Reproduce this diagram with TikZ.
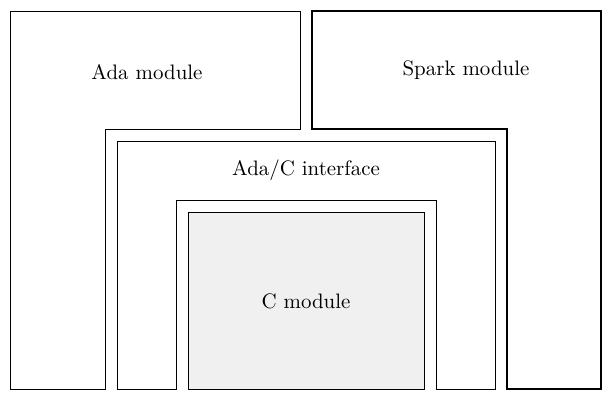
\documentclass[tikz,border=0pt]{standalone}
\usepackage{tikz}
\begin{document}
\begin{tikzpicture}[x=0.478pt,y=-0.478pt]
			\useasboundingbox (0,0) rectangle (613,401);
			\tikzset{module/.style={draw,line width=0.4pt},
				spark/.style={draw,very thick}}
			
			\fill [black!6] (188,212) rectangle (424,389);
			\draw [module] (188,212) rectangle (424,389);
			
			\draw [module] (10,11) -- (300,11) -- (300,129) -- (105,129) -- (105,389) -- (10,389) -- cycle;
			\draw [spark] (312,11) -- (601,11) -- (601,389) -- (507,389) -- (507,129) -- (312,129) -- cycle;
			\draw [module] (117,389) -- (117,141) -- (495,141) -- (495,389) -- (436,389) -- (436,200) -- (176,200) -- (176,389) -- cycle;
			
			\node (ada) at (147,72) {Ada module};
			\node (spark) at (466,70) {Spark module};
			\node (iface) at (306,170) {Ada/C interface};
			\node (cmod) at (306,301) {C module};
		\end{tikzpicture}
\end{document}
